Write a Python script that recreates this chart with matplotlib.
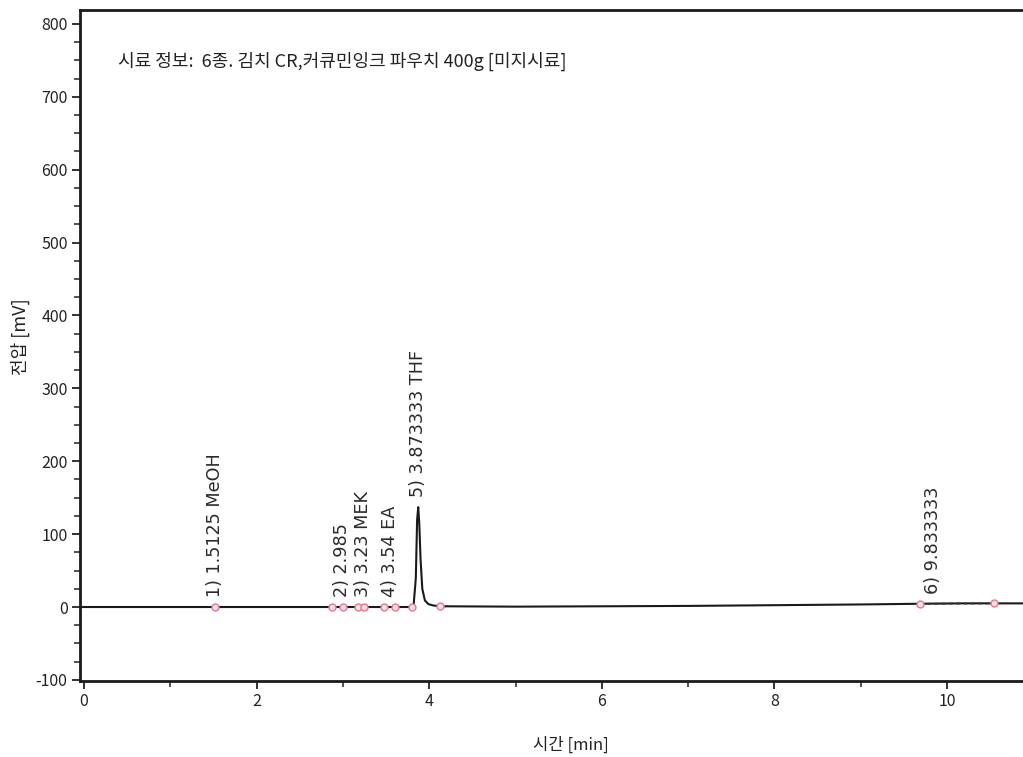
import matplotlib
matplotlib.use("Agg")
import matplotlib.pyplot as plt
from matplotlib.ticker import MultipleLocator

plt.rcParams['font.family'] = ['Noto Sans CJK KR', 'DejaVu Sans']
plt.rcParams['axes.unicode_minus'] = False

# Detector trace (retention time in min, signal in mV)
time_min = [-0.05, 1.0, 1.5, 2.5, 3.0, 3.5, 3.78, 3.82, 3.845, 3.86, 3.873,
            3.885, 3.90, 3.92, 3.95, 3.99, 4.05, 4.15, 5.0, 6.0, 7.0, 8.0,
            9.0, 9.7, 10.2, 10.55, 10.9]
signal_mv = [0, 0, 0, 0, 0, 0, 0, 3, 40, 120, 137,
             115, 65, 25, 9, 4, 2, 1, 0.5, 1, 1.5, 2.5,
             3.5, 4.5, 5, 5, 5]

# Integration start/end points
bound_t = [1.5125, 2.87, 3.0, 3.18, 3.25, 3.48, 3.60, 3.80, 4.12, 9.69, 10.54]
bound_v = [0, 0, 0, 0, 0, 0, 0, 0, 1, 4.5, 5]

# Peak table
peak_rt = [1.5125, 2.985, 3.23, 3.54, 3.873333, 9.833333]
peak_height = [0, 0, 0, 0, 137, 4.8]
peak_labels = ["1) 1.5125 MeOH", "2) 2.985", "3) 3.23 MEK", "4) 3.54 EA",
               "5) 3.873333 THF", "6) 9.833333"]

header = "시료 정보:  6종. 김치 CR,커큐민잉크 파우치 400g [미지시료]"

W, H = 1023, 757
fig = plt.figure(figsize=(W / 100, H / 100), dpi=100)
ax = fig.add_axes([80 / W, (H - 681) / H, 1 - 80 / W, (681 - 10) / H])

ax.plot(time_min, signal_mv, color='#1a1a1a', lw=1.5, zorder=3)
ax.plot([bound_t[-2], bound_t[-1]], [bound_v[-2], bound_v[-1]],
        color='#333333', lw=1.3, ls=(0, (2, 2)), zorder=4)
ax.plot(bound_t, bound_v, ls='none', marker='o', ms=5,
        mfc='#f8dde4', mec='#e27890', mew=1.0, zorder=5)

for rt, h, lab in zip(peak_rt, peak_height, peak_labels):
    ax.annotate(lab, xy=(rt, h), xytext=(0, 7), textcoords='offset points',
                rotation=90, ha='center', va='bottom', fontsize=12.7,
                family='DejaVu Sans', color='#2a2a2a')

ax.text(0.39, 748, header, fontsize=13, color='#222222', va='center', ha='left')

ax.set_xlim(-0.046, 10.88)
ax.set_ylim(-101.5, 819)

ax.xaxis.set_major_locator(MultipleLocator(2))
ax.xaxis.set_minor_locator(MultipleLocator(1))
ax.yaxis.set_major_locator(MultipleLocator(100))
ax.yaxis.set_minor_locator(MultipleLocator(25))

ax.tick_params(axis='both', which='major', direction='out', length=6,
               width=1.3, labelsize=11.5, colors='#222222', pad=3)
ax.tick_params(axis='both', which='minor', direction='out', length=4,
               width=1.1, colors='#222222')

for side in ('left', 'bottom', 'top'):
    ax.spines[side].set_linewidth(2.0)
    ax.spines[side].set_color('#1a1a1a')
ax.spines['right'].set_visible(False)

ax.set_xlabel("시간 [min]", fontsize=12, color='#222222')
ax.xaxis.set_label_coords((571 - 80) / (W - 80), -(745 - 681) / (681 - 10))
ax.xaxis.label.set_va('center')
ax.set_ylabel("전압 [mV]", fontsize=13, color='#222222')
ax.yaxis.set_label_coords(-(80 - 20) / (W - 80), (681 - 337) / (681 - 10))
ax.yaxis.label.set_va('center')

fig.savefig("out.png", dpi=100)
